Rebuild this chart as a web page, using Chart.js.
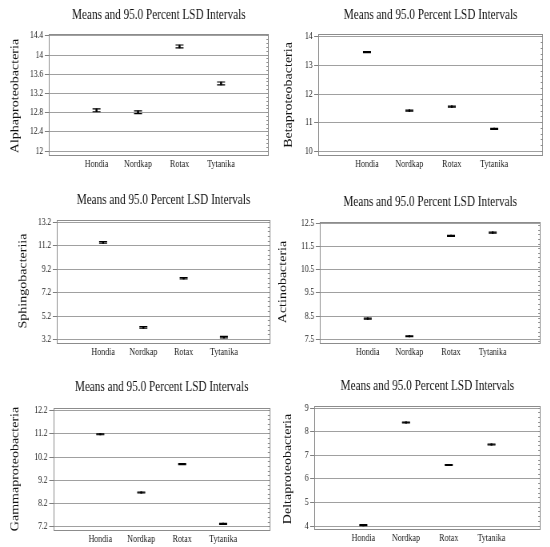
<!DOCTYPE html>
<html>
<head>
<meta charset="utf-8">
<script src="https://cdn.jsdelivr.net/npm/chart.js@4.4.1/dist/chart.umd.min.js"></script>
<style>
  html, body { margin: 0; padding: 0; background: #fff; }
  #page { position: relative; width: 550px; height: 547px; overflow: hidden; }
  .panel { position: absolute; transform: scaleX(0.8); transform-origin: 0 0; }
  .panel canvas { display: block; }
</style>
</head>
<body>
<div id="page"></div>
<script>
// groups on the x axis
const categories = ['Hondia', 'Nordkap', 'Rotax', 'Tytanika'];

// Alphaproteobacteria
const alphaMeans = [12.85, 12.81, 14.18, 13.41];
const alphaLower = [12.82, 12.78, 14.15, 13.38];
const alphaUpper = [12.88, 12.84, 14.21, 13.44];
const alphaTicks = [12, 12.4, 12.8, 13.2, 13.6, 14, 14.4];
const alphaRange = [11.94, 14.45];

// Betaproteobacteria
const betaMeans = [13.47, 11.42, 11.56, 10.78];
const betaLower = [13.45, 11.40, 11.54, 10.76];
const betaUpper = [13.49, 11.44, 11.58, 10.80];
const betaTicks = [10, 11, 12, 13, 14];
const betaRange = [9.9, 14.12];

// Sphingobacteriia
const sphingoMeans = [11.49, 4.23, 8.43, 3.40];
const sphingoLower = [11.43, 4.17, 8.37, 3.34];
const sphingoUpper = [11.55, 4.29, 8.49, 3.46];
const sphingoTicks = [3.2, 5.2, 7.2, 9.2, 11.2, 13.2];
const sphingoRange = [2.94, 13.4];

// Actinobacteria
const actinoMeans = [8.39, 7.63, 11.95, 12.09];
const actinoLower = [8.37, 7.61, 11.93, 12.07];
const actinoUpper = [8.41, 7.65, 11.97, 12.11];
const actinoTicks = [7.5, 8.5, 9.5, 10.5, 11.5, 12.5];
const actinoRange = [7.36, 12.57];

// Gammaproteobacteria
const gammaMeans = [11.18, 8.68, 9.90, 7.33];
const gammaLower = [11.16, 8.66, 9.88, 7.31];
const gammaUpper = [11.20, 8.70, 9.92, 7.35];
const gammaTicks = [7.2, 8.2, 9.2, 10.2, 11.2, 12.2];
const gammaRange = [7.11, 12.33];

// Deltaproteobacteria
const deltaMeans = [4.04, 8.39, 6.59, 7.46];
const deltaLower = [4.02, 8.37, 6.57, 7.44];
const deltaUpper = [4.06, 8.41, 6.61, 7.48];
const deltaTicks = [4, 5, 6, 7, 8, 9];
const deltaRange = [3.9, 9.11];

const titleText = 'Means and 95.0 Percent LSD Intervals';
const serif = '"Liberation Serif", "Times New Roman", serif';
const CANVAS_W = 344; // drawn wide, then squeezed by scaleX(0.8)

// where each panel sits (unscaled px inside its canvas)
const panels = [
  { label: 'Alphaproteobacteria', means: alphaMeans, lower: alphaLower, upper: alphaUpper, ticks: alphaTicks, range: alphaRange, minor: 0.08,
    left: 0, top: 0, h: 180, plotL: 61, plotR: 336, plotT: 33.5, plotB: 154, labelX: 19, labelY: 96, titleY: 15 },
  { label: 'Betaproteobacteria', means: betaMeans, lower: betaLower, upper: betaUpper, ticks: betaTicks, range: betaRange, minor: 0.2,
    left: 275, top: 0, h: 180, plotL: 54, plotR: 335, plotT: 33.5, plotB: 154, labelX: 17.5, labelY: 95, titleY: 15 },
  { label: 'Sphingobacteriia', means: sphingoMeans, lower: sphingoLower, upper: sphingoUpper, ticks: sphingoTicks, range: sphingoRange, minor: 0.4,
    left: 0, top: 180, h: 185, plotL: 71, plotR: 343, plotT: 40, plotB: 162.5, labelX: 29, labelY: 101, titleY: 20 },
  { label: 'Actinobacteria', means: actinoMeans, lower: actinoLower, upper: actinoUpper, ticks: actinoTicks, range: actinoRange, minor: 0.2,
    left: 275, top: 180, h: 185, plotL: 56, plotR: 332, plotT: 41.5, plotB: 162.5, labelX: 10.5, labelY: 102, titleY: 22.5 },
  { label: 'Gammaproteobacteria', means: gammaMeans, lower: gammaLower, upper: gammaUpper, ticks: gammaTicks, range: gammaRange, minor: 0.2,
    left: 0, top: 365, h: 182, plotL: 66.5, plotR: 342.5, plotT: 42.5, plotB: 164, labelX: 19, labelY: 104, titleY: 22.5 },
  { label: 'Deltaproteobacteria', means: deltaMeans, lower: deltaLower, upper: deltaUpper, ticks: deltaTicks, range: deltaRange, minor: 0.2,
    left: 275, top: 365, h: 182, plotL: 49, plotR: 332, plotT: 40.5, plotB: 163.5, labelX: 16.5, labelY: 104, titleY: 21 }
];

// frame, title and rotated y label
const panelDecor = {
  id: 'panelDecor',
  afterDraw(chart, args, opts) {
    const ctx = chart.ctx;
    const a = chart.chartArea;
    ctx.save();
    ctx.strokeStyle = '#8c8c8c';
    ctx.lineWidth = 1;
    ctx.strokeRect(Math.round(a.left) + 0.5, Math.round(a.top) + 0.5,
      Math.round(a.right - a.left) - 1, Math.round(a.bottom - a.top));
    ctx.fillStyle = '#111';
    ctx.font = '14px ' + serif;
    ctx.textAlign = 'center';
    ctx.textBaseline = 'middle';
    ctx.fillText(titleText, (a.left + a.right) / 2, opts.titleY);
    ctx.translate(opts.labelX, opts.labelY);
    ctx.rotate(-Math.PI / 2);
    ctx.fillText(opts.label, 0, 0);
    ctx.restore();
  }
};

function makePanel(p) {
  const wrap = document.createElement('div');
  wrap.className = 'panel';
  wrap.style.left = p.left + 'px';
  wrap.style.top = p.top + 'px';
  const canvas = document.createElement('canvas');
  canvas.width = CANVAS_W;
  canvas.height = p.h;
  wrap.appendChild(canvas);
  document.getElementById('page').appendChild(wrap);

  const whiskers = categories.map((c, i) => ({ x: i + 1, y: [p.lower[i], p.upper[i]] }));
  const lowCaps = categories.map((c, i) => ({ x: i + 1, y: p.lower[i] }));
  const highCaps = categories.map((c, i) => ({ x: i + 1, y: p.upper[i] }));
  const centers = categories.map((c, i) => ({ x: i + 1, y: p.means[i] }));

  new Chart(canvas, {
    type: 'scatter',
    data: {
      datasets: [
        { type: 'bar', data: whiskers, backgroundColor: '#000', barThickness: 1.4, borderWidth: 0 },
        { data: lowCaps, pointStyle: 'line', pointRadius: 5, borderColor: '#000', borderWidth: 1.2 },
        { data: highCaps, pointStyle: 'line', pointRadius: 5, borderColor: '#000', borderWidth: 1.2 },
        { data: centers, pointStyle: 'rect', pointRadius: 1.5, backgroundColor: '#000', borderColor: '#000', borderWidth: 0 }
      ]
    },
    options: {
      responsive: false,
      animation: false,
      layout: { padding: { left: 0, top: p.plotT, right: CANVAS_W - p.plotR, bottom: 0 } },
      plugins: {
        legend: { display: false },
        tooltip: { enabled: false },
        panelDecor: { label: p.label, labelX: p.labelX, labelY: p.labelY, titleY: p.titleY }
      },
      scales: {
        x: {
          type: 'linear',
          offset: false,
          min: -0.15,
          max: 5.15,
          afterBuildTicks: s => { s.ticks = categories.map((c, i) => ({ value: i + 1 })); },
          afterFit: s => { s.height = p.h - p.plotB; },
          grid: { display: false, drawTicks: false, offset: false },
          border: { display: false },
          ticks: {
            callback: v => categories[v - 1] || '',
            font: { family: serif, size: 10 },
            color: '#1a1a1a',
            padding: 4,
            maxRotation: 0
          }
        },
        y: {
          type: 'linear',
          min: p.range[0],
          max: p.range[1],
          afterBuildTicks: s => { s.ticks = p.ticks.map(v => ({ value: v })); },
          afterFit: s => { s.width = p.plotL; },
          grid: { color: '#a0a0a0', lineWidth: 1, drawTicks: true, tickLength: 5, tickColor: '#808080' },
          border: { display: false },
          ticks: {
            callback: v => String(v),
            font: { family: serif, size: 9.5 },
            color: '#222',
            padding: 2
          }
        },
        yMinor: {
          type: 'linear',
          position: 'right',
          min: p.range[0],
          max: p.range[1],
          afterFit: s => { s.width = 0; },
          grid: { drawOnChartArea: false, drawTicks: true, tickLength: -3, tickColor: '#909090' },
          border: { display: false },
          ticks: { display: false, stepSize: p.minor, includeBounds: false }
        }
      }
    },
    plugins: [panelDecor]
  });
}

panels.forEach(makePanel);
</script>
</body>
</html>
